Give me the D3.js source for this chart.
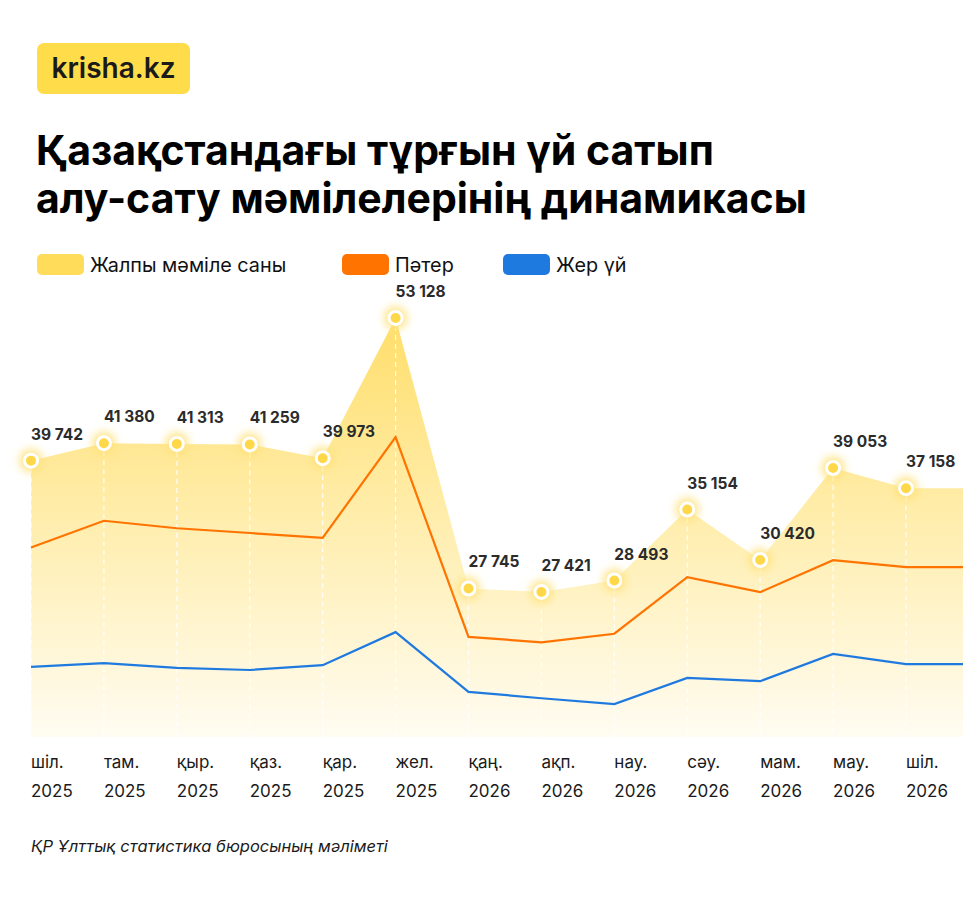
<!DOCTYPE html>
<html>
<head>
<meta charset="utf-8">
<script src="https://cdn.jsdelivr.net/npm/d3@7"></script>
<style>
  body { margin: 0; background: #fff; }
  svg { display: block; font-family: Inter, "Noto Sans", sans-serif; }
</style>
</head>
<body>
<div class="chart"></div>
<script>
// months of the period
var months = ["шіл.", "там.", "қыр.", "қаз.", "қар.", "жел.", "қаң.", "ақп.", "нау.", "сәу.", "мам.", "мау.", "шіл."];
var years = ["2025", "2025", "2025", "2025", "2025", "2025", "2026", "2026", "2026", "2026", "2026", "2026", "2026"];

// total deals (labelled in the picture)
var totalDeals = [39742, 41380, 41313, 41259, 39973, 53128, 27745, 27421, 28493, 35154, 30420, 39053, 37158];
// apartments and houses, estimated from the lines
var flats = [31600, 34100, 33400, 32950, 32500, 41950, 23200, 22700, 23500, 28800, 27400, 30400, 29750];
var houses = [20400, 20750, 20300, 20100, 20550, 23650, 18050, 17450, 16900, 19350, 19050, 21600, 20650];

var legendNames = ["Жалпы мәміле саны", "Пәтер", "Жер үй"];

var width = 963, height = 900;

var svg = d3.select('.chart')
    .append('svg')
    .attr('width', width)
    .attr('height', height);

var defs = svg.append('defs');

var grad = defs.append('linearGradient')
    .attr('id', 'areaFill')
    .attr('gradientUnits', 'userSpaceOnUse')
    .attr('x1', 0).attr('y1', 330)
    .attr('x2', 0).attr('y2', 737);
grad.append('stop').attr('offset', '0%').attr('stop-color', '#FFDF6E');
grad.append('stop').attr('offset', '55%').attr('stop-color', '#FFF0B8');
grad.append('stop').attr('offset', '100%').attr('stop-color', '#FFFCF2');

var glow = defs.append('filter')
    .attr('id', 'glow')
    .attr('x', '-100%').attr('y', '-100%')
    .attr('width', '300%').attr('height', '300%');
glow.append('feGaussianBlur').attr('stdDeviation', 5);

// logo
svg.append('rect')
    .attr('x', 37).attr('y', 43)
    .attr('width', 153).attr('height', 51)
    .attr('rx', 7)
    .attr('fill', '#FFDC4A');
svg.append('text')
    .attr('x', 113.5).attr('y', 78)
    .attr('text-anchor', 'middle')
    .attr('font-size', 28)
    .attr('font-weight', 600)
    .attr('fill', '#1a1a1a')
    .text('krisha.kz');

// title
var title = svg.append('text')
    .attr('font-size', 41)
    .attr('font-weight', 700)
    .attr('fill', '#000');
title.append('tspan').attr('x', 36).attr('y', 165).text('Қазақстандағы тұрғын үй сатып');
title.append('tspan').attr('x', 36).attr('y', 213).text('алу-сату мәмілелерінің динамикасы');

// legend
var legendColors = ['#FFDC5A', '#FF7300', '#1F7AE0'];
var legendX = [37, 342, 503];
var legend = svg.selectAll('.legend')
    .data(legendNames)
    .enter()
    .append('g')
    .attr('class', 'legend')
    .attr('transform', (d, i) => 'translate(' + legendX[i] + ',254)');
legend.append('rect')
    .attr('width', 47).attr('height', 21)
    .attr('rx', 5)
    .attr('fill', (d, i) => legendColors[i]);
legend.append('text')
    .attr('x', 53).attr('y', 17.5)
    .attr('font-size', 19.8)
    .attr('fill', '#111')
    .text(d => d);

// scales
var xscale = d3.scaleLinear()
    .domain([0, months.length - 1])
    .range([31, 906]);

var baseY = 737;
var yscale = d3.scaleLinear()
    .domain([14000, 55000])
    .range([baseY - 2, 298]);

var idx = d3.range(months.length);
// flat tail to the right border, as in the picture
var tailX = width;

function withTail(values) {
    var pts = idx.map(i => [xscale(i), yscale(values[i])]);
    pts.push([tailX, yscale(values[values.length - 1])]);
    return pts;
}

var area = d3.area()
    .x(d => d[0])
    .y0(baseY)
    .y1(d => d[1]);

var line = d3.line()
    .x(d => d[0])
    .y(d => d[1]);

svg.append('path')
    .attr('d', area(withTail(totalDeals)))
    .attr('fill', 'url(#areaFill)');

// dashed guides
svg.selectAll('.guide')
    .data(idx)
    .enter()
    .append('line')
    .attr('class', 'guide')
    .attr('x1', i => xscale(i)).attr('x2', i => xscale(i))
    .attr('y1', i => yscale(totalDeals[i]) + 8)
    .attr('y2', baseY)
    .attr('stroke', '#fff')
    .attr('stroke-width', 1.2)
    .attr('stroke-dasharray', '5,4')
    .attr('opacity', 0.9);

svg.append('path')
    .attr('d', line(withTail(flats)))
    .attr('fill', 'none')
    .attr('stroke', '#FF7300')
    .attr('stroke-width', 2.2);

svg.append('path')
    .attr('d', line(withTail(houses)))
    .attr('fill', 'none')
    .attr('stroke', '#1F7AE0')
    .attr('stroke-width', 2.2);

// points
var pts = svg.selectAll('.pt')
    .data(idx)
    .enter()
    .append('g')
    .attr('class', 'pt')
    .attr('transform', i => 'translate(' + xscale(i) + ',' + yscale(totalDeals[i]) + ')');
pts.append('circle')
    .attr('r', 11)
    .attr('fill', '#FFE27A')
    .attr('filter', 'url(#glow)');
pts.append('circle')
    .attr('r', 6.5)
    .attr('fill', '#FFD84A')
    .attr('stroke', '#fff')
    .attr('stroke-width', 3);

// value labels
var fmt = d => d3.format(',')(d).replace(',', ' ');
svg.selectAll('.val')
    .data(idx)
    .enter()
    .append('text')
    .attr('class', 'val')
    .attr('x', i => xscale(i))
    .attr('y', i => yscale(totalDeals[i]) - 21)
    .attr('font-size', 15.5)
    .attr('font-weight', 700)
    .attr('fill', '#2b2b2b')
    .text(i => fmt(totalDeals[i]));

// x labels
var xl = svg.selectAll('.xl')
    .data(idx)
    .enter()
    .append('text')
    .attr('class', 'xl')
    .attr('font-size', 17)
    .attr('fill', '#1a1a1a');
xl.append('tspan')
    .attr('x', i => xscale(i))
    .attr('y', 768)
    .text(i => months[i]);
xl.append('tspan')
    .attr('x', i => xscale(i))
    .attr('y', 797)
    .text(i => years[i]);

// source
svg.append('text')
    .attr('x', 31).attr('y', 852)
    .attr('font-size', 16.5)
    .attr('font-style', 'italic')
    .attr('fill', '#1a1a1a')
    .text('ҚР Ұлттық статистика бюросының мәліметі');
</script>
</body>
</html>
